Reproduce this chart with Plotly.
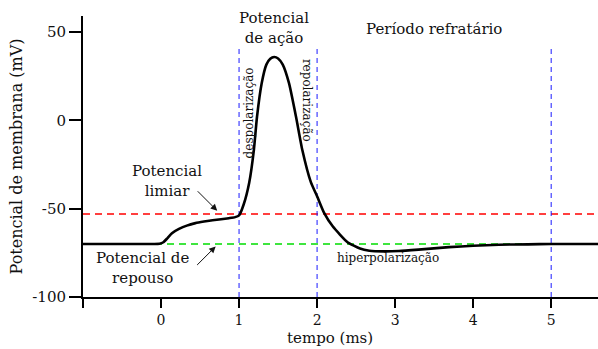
import plotly.graph_objects as go

# Membrane potential trace (time in ms, potential in mV)
tempo = [-1.0, -0.5, -0.1, -0.02, 0.03, 0.08, 0.14, 0.23, 0.33, 0.44, 0.55, 0.66, 0.77,
         0.87, 0.95, 1.0, 1.06, 1.13, 1.19, 1.23, 1.29, 1.35, 1.40, 1.45, 1.50, 1.56, 1.64,
         1.73, 1.81, 1.92, 2.0, 2.09, 2.2, 2.39, 2.55, 2.67, 2.85, 3.05, 3.3, 3.69, 4.0,
         4.33, 4.7, 5.0, 5.3, 5.6]
potencial = [-70, -70, -70, -69.9, -69.0, -66.8, -63.9, -61.5, -59.6, -58.2, -57.3, -56.6, -56.0,
             -55.4, -54.8, -53.8, -47.5, -35.3, -16.7, 2, 21, 31.5, 34.8, 35.8, 35.0, 31.5, 21,
             2, -16.7, -35, -43, -52.4, -60, -69, -72.6, -73.8, -74.2, -74, -73.2, -71.8, -71,
             -70.4, -70.2, -70, -70, -70]

limiar = -53
repouso = -70
marcas_verticais = [1, 2, 5]
topo_marcas = 42

x_ticks = [-1, 0, 1, 2, 3, 4, 5]
x_labels = ["", "0", "1", "2", "3", "4", "5"]
y_ticks = [-100, -50, 0, 50]
y_labels = ["-100", "-50", "0", "50"]

FONT = "DejaVu Serif"
X_RANGE = [-1, 5.6]
Y_RANGE = [-100, 59]

fig = go.Figure()

# threshold and resting reference lines
fig.add_trace(go.Scatter(x=X_RANGE, y=[limiar, limiar], mode="lines",
                         line=dict(color="#ff0000", width=1.5, dash="7px,5px"),
                         hoverinfo="skip"))
fig.add_trace(go.Scatter(x=X_RANGE, y=[repouso, repouso], mode="lines",
                         line=dict(color="#00dd00", width=1.5, dash="7px,5px"),
                         hoverinfo="skip"))

# vertical phase markers
for xv in marcas_verticais:
    fig.add_trace(go.Scatter(x=[xv, xv], y=[Y_RANGE[0], topo_marcas], mode="lines",
                             line=dict(color="#1a1aff", width=1, dash="5px,4px"),
                             hoverinfo="skip"))

# action potential curve
fig.add_trace(go.Scatter(x=tempo, y=potencial, mode="lines",
                         line=dict(color="black", width=2.6, shape="spline", smoothing=0.5),
                         hoverinfo="skip"))

txt = dict(family=FONT, color="#111111")

annotations = [
    dict(x=1.45, y=52, text="Potencial<br>de ação", showarrow=False,
         font=dict(size=15, **txt)),
    dict(x=3.5, y=51.8, text="Período refratário", showarrow=False,
         font=dict(size=15, **txt)),
    dict(x=1.13, y=4, text="despolarização", showarrow=False, textangle=-90,
         font=dict(size=12, **txt)),
    dict(x=1.87, y=11, text="repolarização", showarrow=False, textangle=90,
         font=dict(size=12, **txt)),
    dict(x=2.91, y=-77.8, text="hiperpolarização", showarrow=False,
         font=dict(size=12, **txt)),
    dict(x=0.08, y=-34.2, text="Potencial<br>limiar", showarrow=False,
         font=dict(size=15, **txt)),
    dict(x=-0.24, y=-83.5, text="Potencial de<br>repouso", showarrow=False,
         font=dict(size=15, **txt)),
    dict(x=0.72, y=-51.2, ax=-21, ay=-21, text="", showarrow=True,
         arrowhead=2, arrowsize=1.3, arrowwidth=1, arrowcolor="#111111"),
    dict(x=0.70, y=-71.4, ax=-20, ay=20, text="", showarrow=True,
         arrowhead=2, arrowsize=1.3, arrowwidth=1, arrowcolor="#111111"),
    # x-axis title
    dict(x=2.17, xref="x", y=0, yref="paper", yshift=-52, yanchor="bottom",
         text="tempo (ms)", showarrow=False, font=dict(size=15, **txt)),
]

fig.update_layout(
    width=598, height=349,
    margin=dict(l=83, r=0, t=16, b=52),
    plot_bgcolor="white", paper_bgcolor="white",
    showlegend=False,
    annotations=annotations,
    xaxis=dict(range=X_RANGE, tickvals=x_ticks, ticktext=x_labels,
               showgrid=False, zeroline=False, showline=True, linecolor="black",
               linewidth=2, ticks="outside", ticklen=9, tickwidth=2, tickcolor="black",
               tickfont=dict(family=FONT, size=14, color="#111111")),
    yaxis=dict(range=Y_RANGE, tickvals=y_ticks, ticktext=y_labels,
               showgrid=False, zeroline=False, showline=True, linecolor="black",
               linewidth=2, ticks="outside", ticklen=12, tickwidth=2, tickcolor="black",
               tickfont=dict(family=FONT, size=15, color="#111111"),
               title=dict(text="Potencial de membrana (mV)",
                          font=dict(family=FONT, size=16, color="#111111"), standoff=6)),
)

fig.write_html("out.html")
